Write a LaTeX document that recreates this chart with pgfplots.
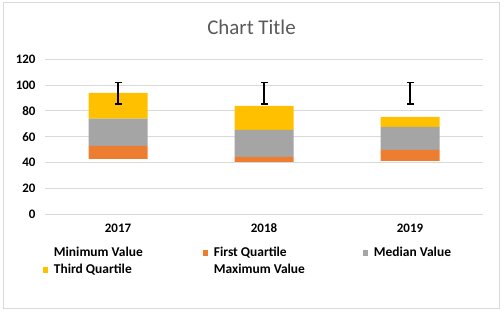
\documentclass[border=0pt]{standalone}
\usepackage{pgfplots}
\pgfplotsset{compat=1.18}
\usepackage{fontspec}
\setmainfont{Carlito}
\definecolor{qorange}{HTML}{ED7D31}
\definecolor{qgray}{HTML}{A5A5A5}
\definecolor{qyellow}{HTML}{FFC000}
\definecolor{gridgray}{HTML}{D9D9D9}
\definecolor{titlegray}{HTML}{595959}
\begin{document}
\begin{tikzpicture}
\path (0bp,0bp) rectangle (504bp,312bp);
\draw[draw=gridgray, line width=1bp] (3bp,3bp) rectangle (499.5bp,309bp);
\node[text=titlegray, font=\fontsize{21}{24}\selectfont, anchor=base] at (251.5bp,277bp) {Chart Title};
\begin{axis}[
  at={(45bp,97.7bp)}, anchor=south west,
  scale only axis, width=438bp, height=155bp,
  xmin=-0.5, xmax=2.5, ymin=0, ymax=120,
  ybar stacked, bar width=59bp,
  xtick={0,1,2}, xticklabels={2017,2018,2019},
  ytick={0,20,...,120},
  /pgf/number format/assume math mode=true,
  ymajorgrids, grid style={draw=gridgray, line width=1bp},
  axis line style={draw=none},
  major tick length=0pt,
  tick label style={font=\bfseries\fontsize{13}{15}\selectfont},
  xticklabel style={yshift=-6bp},
  yticklabel style={xshift=-6bp},
  legend columns=3,
  legend cell align=left,
  legend style={draw=none, fill=none, at={(-0.012,-0.19)}, anchor=north west,
    font=\bfseries\fontsize{13.5}{15}\selectfont,
    nodes={inner xsep=0pt, inner ysep=1.5bp},
    /tikz/every odd column/.append style={column sep=5.5bp},
    row sep=3bp},
]
\addplot[draw=none, fill=none, legend image code/.code={}] coordinates {(0,43) (1,40.5) (2,41.3)};
\addlegendentry{\makebox[149bp][l]{Minimum Value}}
\addplot[draw=none, fill=qorange, legend image code/.code={\fill[qorange] (0bp,-2.8bp) rectangle (5.5bp,2.8bp);}] coordinates {(0,10) (1,3.9) (2,8.5)};
\addlegendentry{\makebox[149bp][l]{First Quartile}}
\addplot[draw=none, fill=qgray, legend image code/.code={\fill[qgray] (0bp,-2.8bp) rectangle (5.5bp,2.8bp);}] coordinates {(0,21) (1,20.9) (2,17.8)};
\addlegendentry{Median Value}
\addplot[draw=none, fill=qyellow, legend image code/.code={\fill[qyellow] (0bp,-2.8bp) rectangle (5.5bp,2.8bp);}] coordinates {(0,20.1) (1,18.6) (2,7.8)};
\addlegendentry{\makebox[149bp][l]{Third Quartile}}
\addplot[draw=none, fill=none, legend image code/.code={}] coordinates {(0,8) (1,18) (2,26.5)};
\addlegendentry{\makebox[149bp][l]{Maximum Value}}
\end{axis}
\begin{axis}[
  at={(45bp,97.7bp)}, anchor=south west,
  scale only axis, width=438bp, height=155bp,
  xmin=-0.5, xmax=2.5, ymin=0, ymax=120,
  hide axis,
]
\addplot[draw=none, mark=none,
  error bars/.cd, y dir=both, y explicit,
  error bar style={line width=1.6bp, black},
  error mark options={rotate=90, mark size=3.5bp, line width=1.6bp, black}]
  coordinates {(0,93.7) +- (0,8.3) (1,93.7) +- (0,8.3) (2,93.7) +- (0,8.3)};
\end{axis}
\end{tikzpicture}
\end{document}
